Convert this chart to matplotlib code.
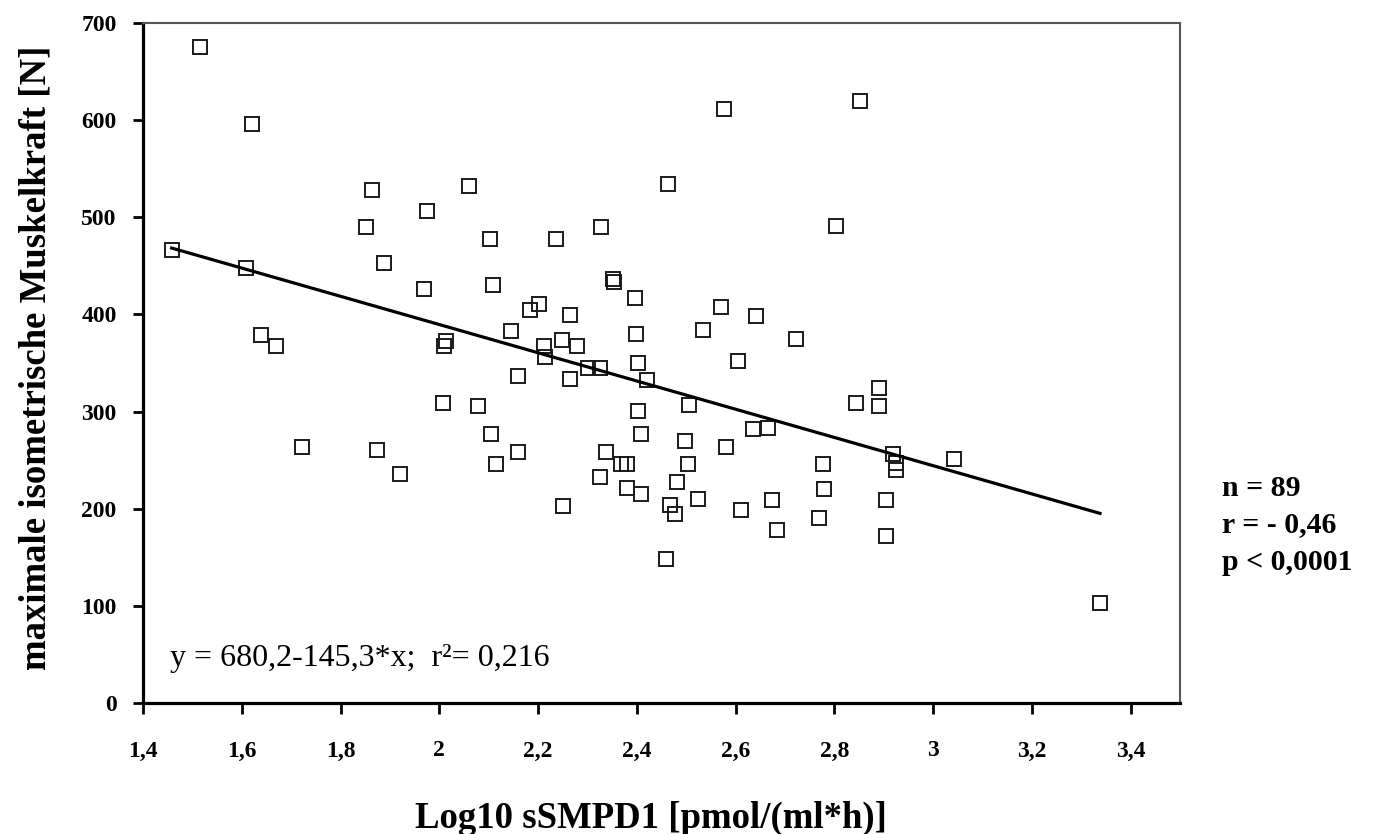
import numpy as np
import matplotlib
matplotlib.use("Agg")
from matplotlib import pyplot as plt

# Log10 sSMPD1 values
x_vals = [1.516, 1.620, 1.458, 1.609, 1.863, 1.851, 1.889, 1.976, 2.060, 1.970,
          2.103, 2.109, 2.236, 2.328, 2.352, 2.354, 2.396, 2.201, 2.184, 2.265,
          1.638, 1.669, 2.013, 2.010, 2.146, 2.213, 2.248, 2.279, 2.215, 2.399,
          2.403, 2.302, 2.326, 2.160, 2.265, 2.421, 2.007, 2.079, 2.105, 2.160,
          2.115, 1.722, 1.874, 1.921, 2.337, 2.368, 2.380, 2.325, 2.380, 2.409,
          2.250, 2.403, 2.409, 2.570, 2.641, 2.534, 2.722, 2.604, 2.506, 2.497,
          2.580, 2.635, 2.666, 2.503, 2.482, 2.523, 2.468, 2.477, 2.610, 2.673,
          2.684, 2.459, 2.777, 2.780, 2.768, 2.844, 2.890, 2.890, 2.919, 2.925,
          2.925, 2.904, 2.904, 3.043, 3.338, 2.577, 2.852, 2.463, 2.804]
# maximale isometrische Muskelkraft [N]
y_vals = [675, 596, 466, 448, 528, 490, 453, 506, 532, 426,
          478, 430, 478, 490, 436, 433, 417, 411, 405, 399,
          379, 368, 373, 368, 383, 368, 374, 368, 356, 380,
          350, 345, 345, 337, 334, 332, 309, 306, 277, 258,
          246, 264, 260, 236, 258, 246, 246, 233, 221, 215,
          203, 301, 277, 408, 398, 384, 375, 352, 307, 270,
          264, 282, 283, 246, 227, 210, 204, 195, 199, 209,
          178, 148, 246, 220, 190, 309, 324, 306, 256, 247,
          240, 209, 172, 251, 103, 611, 620, 534, 491]

intercept = 680.2
slope = -145.3

x_ticks = [1.4, 1.6, 1.8, 2.0, 2.2, 2.4, 2.6, 2.8, 3.0, 3.2, 3.4]
x_ticklabels = ["1,4", "1,6", "1,8", "2", "2,2", "2,4", "2,6", "2,8", "3", "3,2", "3,4"]
y_ticks = [0, 100, 200, 300, 400, 500, 600, 700]

plt.rcParams["font.family"] = ["Liberation Serif", "DejaVu Serif"]
plt.rcParams["font.weight"] = "bold"

def main():
    fig = plt.figure(figsize=(13.77, 8.34), dpi=100)
    ax = fig.add_axes([143/1377, 131/834, 1037/1377, 680/834])

    ax.plot(x_vals, y_vals, linestyle="none", marker="s", markersize=9.5,
            markerfacecolor="none", markeredgecolor="#1a1a1a", markeredgewidth=1.4)

    # regression line over the data range
    xl = np.array([min(x_vals), max(x_vals)])
    ax.plot(xl, intercept + slope*xl, color="black", lw=2.3)

    ax.set_xlim(1.4, 3.5)
    ax.set_ylim(0, 700)
    ax.set_xticks(x_ticks)
    ax.set_xticklabels(x_ticklabels)
    ax.set_yticks(y_ticks)
    ax.tick_params(axis="both", labelsize=17)
    ax.tick_params(axis="x", direction="out", length=8, width=2, pad=19)
    ax.tick_params(axis="y", direction="out", length=7, width=2, pad=12)

    for s in ["left", "bottom"]:
        ax.spines[s].set_linewidth(2.3)
        ax.spines[s].set_color("black")
    for s in ["top", "right"]:
        ax.spines[s].set_linewidth(1.5)
        ax.spines[s].set_color("#555555")

    ax.text(0.026, 0.065, "y = 680,2-145,3*x;  r²= 0,216", transform=ax.transAxes,
            fontsize=23, fontweight="normal", va="center")

    fig.text(651/1377, 1 - 828/834, "Log10 sSMPD1 [pmol/(ml*h)]", ha="center", va="baseline",
             fontsize=26.5)
    fig.text(36/1377, 1 - 358/834, "maximale isometrische Muskelkraft [N]", ha="center", va="center",
             rotation=90, fontsize=26.5)

    for i, t in enumerate(["n = 89", "r = - 0,46", "p < 0,0001"]):
        fig.text(1222/1377, 1 - (488 + 37*i)/834, t, ha="left", va="center", fontsize=21.5)

    fig.savefig("out.png", dpi=100)

if __name__ == "__main__":
    main()
